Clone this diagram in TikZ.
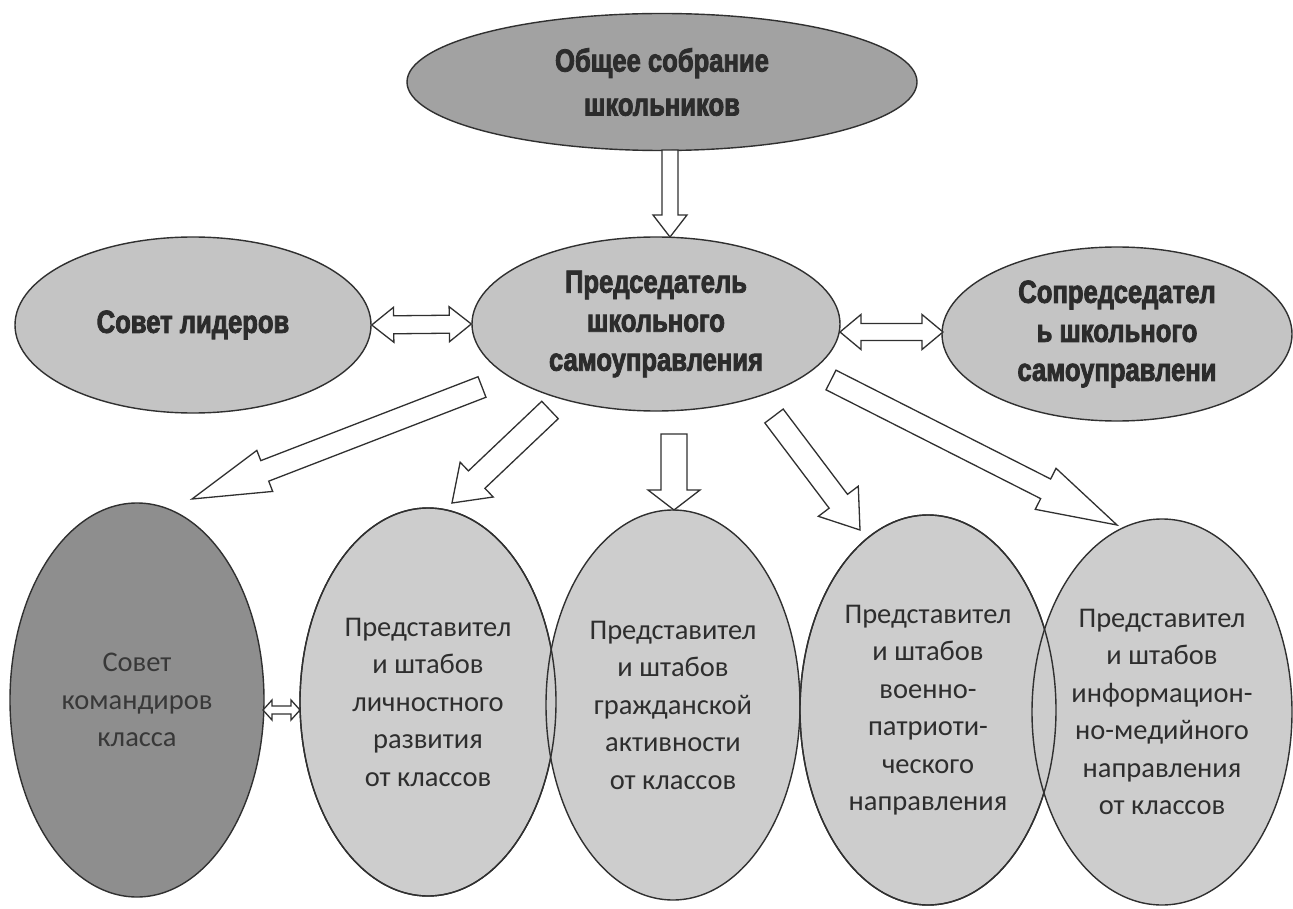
\documentclass[tikz,border=0pt]{standalone}
\usepackage{fontspec}
\setmainfont{Carlito}
\newfontfamily\heavy[FakeStretch=0.8,FakeBold=2.5]{Liberation Sans}
\usetikzlibrary{shapes.geometric,calc}
\definecolor{lineC}{HTML}{303030}
\definecolor{topfill}{HTML}{A2A2A2}
\definecolor{midfill}{HTML}{C4C4C4}
\definecolor{botfill}{HTML}{CDCDCD}
\definecolor{darkfill}{HTML}{8E8E8E}
\definecolor{textH}{HTML}{2C2C2C}
\definecolor{textS}{HTML}{2E2E2E}
\definecolor{textD}{HTML}{383838}
\tikzset{
  ell/.style={ellipse, draw=lineC, line width=1.4pt, inner sep=0pt, align=center},
  heavytext/.style={font=\heavy\bfseries\fontsize{32}{39}\selectfont, text=textH},
  softtext/.style={font=\fontsize{28.5}{37.5}\selectfont, text=textS},
  arr/.style={draw=lineC, line width=1.3pt, fill=white, line join=miter},
  outl/.style={draw=lineC, line width=1.4pt},
}
\newcommand\blkarrow[5]{%
  \coordinate (h#1#2) at ($(#2)!#5!(#1)$);
  \draw[arr] ($(#1)!#3!90:(#2)$) -- ($(h#1#2)!#3!-90:(#1)$) -- ($(h#1#2)!#4!-90:(#1)$) -- (#2)
     -- ($(h#1#2)!#4!90:(#1)$) -- ($(h#1#2)!#3!90:(#1)$) -- ($(#1)!#3!-90:(#2)$) -- cycle;}
\newcommand\dblarrow[5]{%
  \coordinate (ha#1#2) at ($(#1)!#5!(#2)$);
  \coordinate (hb#1#2) at ($(#2)!#5!(#1)$);
  \draw[arr] (#1) -- ($(ha#1#2)!#4!90:(#2)$) -- ($(ha#1#2)!#3!90:(#2)$) -- ($(hb#1#2)!#3!-90:(#1)$)
     -- ($(hb#1#2)!#4!-90:(#1)$) -- (#2) -- ($(hb#1#2)!#4!90:(#1)$) -- ($(hb#1#2)!#3!90:(#1)$)
     -- ($(ha#1#2)!#3!-90:(#2)$) -- ($(ha#1#2)!#4!-90:(#2)$) -- cycle;}
\begin{document}
\begin{tikzpicture}[x=1pt,y=-1pt]
\useasboundingbox (0,0) rectangle (1293,909);
\fill[white] (0,0) rectangle (1293,909);

% top row
\node[ell, fill=topfill, minimum width=510pt, minimum height=137pt, heavytext, font=\heavy\bfseries\fontsize{32}{44}\selectfont] (gen) at (662,82) {Общее собрание\\школьников};
\node[ell, fill=midfill, minimum width=368pt, minimum height=174pt, heavytext] (pres) at (656,324) {Председатель\\школьного\\самоуправления};
\node[ell, fill=midfill, minimum width=356pt, minimum height=176pt, heavytext] (lead) at (193,325) {Совет лидеров};
\node[ell, fill=midfill, minimum width=350pt, minimum height=174pt, heavytext] (copres) at (1117,334) {Сопредседател\\ь школьного\\самоуправлени};

% bottom row
\node[ell, fill=darkfill, minimum width=254pt, minimum height=394pt, softtext, text=textD] (cmd) at (137,700) {Совет\\командиров\\класса};
\node[ell, fill=botfill, minimum width=256pt, minimum height=388pt, softtext] (b2) at (428,702) {Представител\\и штабов\\личностного\\развития\\от классов};
\node[ell, fill=botfill, minimum width=254pt, minimum height=390pt, softtext] (b3) at (673,705) {Представител\\и штабов\\гражданской\\активности\\от классов};
\node[ell, fill=botfill, minimum width=256pt, minimum height=390pt, softtext] (b4) at (928,710) {Представител\\и штабов\\военно-\\патриоти-\\ческого\\направления};
\node[ell, fill=botfill, minimum width=260pt, minimum height=386pt, softtext] (b5) at (1162,712) {Представител\\и штабов\\информацион-\\но-медийного\\направления\\от классов};
% overlapping outlines stay visible
\draw[outl] (b2.center) ellipse [x radius=128pt, y radius=194pt];
\draw[outl] (b4.center) ellipse [x radius=128pt, y radius=195pt];

% connector end points
\coordinate (g1) at (670,150);
\coordinate (g2) at (670,237);
\coordinate (dl1) at (lead.east);
\coordinate (dl2) at (pres.west);
\coordinate (dr1) at (840,332);
\coordinate (dr2) at (943,332);
\coordinate (ds1) at (263,710);
\coordinate (ds2) at (300,710);
\coordinate (a1s) at (482,387);
\coordinate (a1e) at (192,499);
\coordinate (a2s) at (550,410);
\coordinate (a2e) at (452,503);
\coordinate (a3s) at (674,434);
\coordinate (a3e) at (674,510);
\coordinate (a4s) at (774,416);
\coordinate (a4e) at (860,530);
\coordinate (a5s) at (831,380);
\coordinate (a5e) at (1117,525);

\blkarrow{g1}{g2}{8pt}{17pt}{22pt}
\dblarrow{dl1}{dl2}{9pt}{17.5pt}{22pt}
\dblarrow{dr1}{dr2}{8.5pt}{17.5pt}{21pt}
\dblarrow{ds1}{ds2}{4pt}{10pt}{9pt}
\blkarrow{a1s}{a1e}{11pt}{22pt}{78pt}
\blkarrow{a2s}{a2e}{12pt}{24pt}{34pt}
\blkarrow{a3s}{a3e}{13pt}{26pt}{20pt}
\blkarrow{a4s}{a4e}{11.5pt}{25pt}{36pt}
\blkarrow{a5s}{a5e}{11pt}{23pt}{80pt}
\end{tikzpicture}
\end{document}
